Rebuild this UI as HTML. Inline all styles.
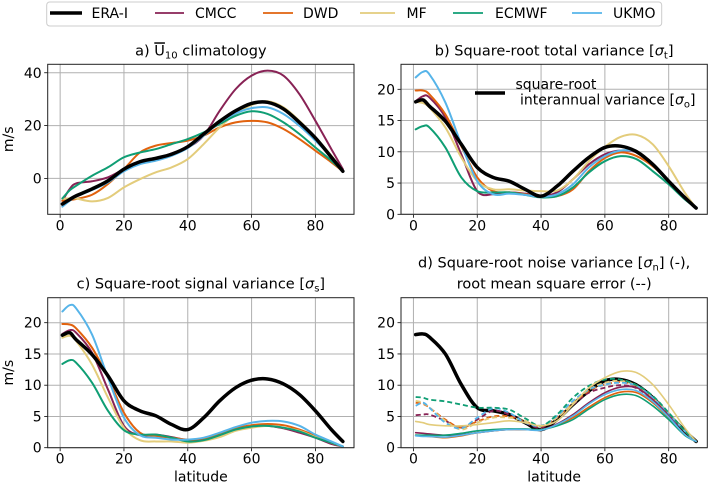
<!DOCTYPE html>
<html><head><meta charset="utf-8"><style>
html,body{margin:0;padding:0;background:#fff;}
svg{display:block;font-family:"DejaVu Sans","Liberation Sans",sans-serif;}
</style></head><body>
<svg id="fig" width="709" height="489" viewBox="0 0 709 489" xmlns="http://www.w3.org/2000/svg">
<g id="legend">
<rect x="46.7" y="2" width="615" height="24" rx="3" fill="#fff" stroke="#cccccc" stroke-width="1"/>
<line x1="50" y1="13" x2="82" y2="13" stroke="#000" stroke-width="3.5"/>
<text x="91.5" y="18" font-size="14">ERA-I</text>
<line x1="155" y1="13" x2="184" y2="13" stroke="#882255" stroke-width="1.8"/>
<text x="195" y="18" font-size="14">CMCC</text>
<line x1="263" y1="13" x2="293" y2="13" stroke="#e1620e" stroke-width="1.8"/>
<text x="303" y="18" font-size="14">DWD</text>
<line x1="360" y1="13" x2="395" y2="13" stroke="#e3cc7b" stroke-width="1.8"/>
<text x="406.5" y="18" font-size="14">MF</text>
<line x1="453" y1="13" x2="483" y2="13" stroke="#0f9e74" stroke-width="1.8"/>
<text x="495" y="18" font-size="14">ECMWF</text>
<line x1="572" y1="13" x2="602" y2="13" stroke="#56b4e9" stroke-width="1.8"/>
<text x="613" y="18" font-size="14">UKMO</text>
</g>
</svg>
<script>
const lat = [0.7,3,5,10,15,20,25,30,35,40,45,50,55,60,65,70,75,80,85,88.6];
const xTicks = [0,20,40,60,80];
const yTicksA = [0,20,40];
const yTicksV = [0,5,10,15,20];
// panel a: climatology
const aERA = [-9.7,-8,-6.6,-4,-0.9,3.5,6.3,7.6,9.2,12,16.8,21.6,25.6,28.4,28.8,26.3,21.2,15.3,8,2.7];
const aCMCC = [-8.5,-4,-1.9,-1.1,0.4,3.5,6.5,7.3,9.5,11.7,16.2,25.6,33.8,38.9,40.8,38.9,31.9,21.8,11.1,3.5];
const aDWD = [-8.5,-8.2,-7.8,-6.2,-2.1,3.5,9.8,12.4,13.4,14.3,16.2,19.3,21.2,21.8,21.2,18.7,14.9,10.5,6.1,2.7];
const aMF = [-7.8,-7.5,-7.6,-8.7,-7.4,-3.4,-0.3,2.3,4.2,7.3,13,19.3,24.4,27.8,29.2,26.9,21.8,15.5,8.6,2.7];
const aECMWF = [-7.6,-4.5,-2.8,1,4.2,8,9.8,11.1,13,14.9,17.4,20.6,23.7,25.4,24.4,21.2,16.8,11.7,6.7,2.7];
const aUKMO = [-10.7,-8.5,-6.9,-4.4,-1.5,2.7,5.4,6.7,8.6,11.5,16.2,21.2,24.6,26.6,26.9,24.4,19.9,14.3,8,2.7];
// panel b: total variance
const bERA = [18,18.3,17.3,14.9,11.2,7.5,5.9,5.3,4,2.9,4.5,6.9,9.1,10.7,10.9,10,8,5.3,2.7,1];
const bCMCC = [18.1,18.9,18.7,15.5,9.6,3.7,3.2,3.5,3.3,2.9,3.5,5.6,8,9.6,10.2,9.9,8,5.3,2.7,1];
const bDWD = [19.8,19.8,19.2,16,10.9,5.9,3.7,3.5,3.2,2.8,2.9,4,6.9,9,9.9,9.3,7.7,5.3,2.7,1];
const bMF = [18,17.8,17.1,13.9,9.1,5.3,4,4,3.8,3.7,3.8,5.6,8.5,10.8,12.4,12.7,11.2,7.7,3.5,1];
const bECMWF = [13.6,14.1,13.9,10.7,5.9,3.7,3.5,3.5,3.1,2.7,2.9,4.3,6.7,8.5,9.3,8.8,6.9,4.8,2.4,1];
const bUKMO = [21.9,22.8,22.4,17.9,11.2,5.3,3.2,3.3,3.1,2.8,3.2,4.8,7.5,9.3,10.2,10,8,5.3,2.7,1];
// panel c: signal variance
const cERA = [18,18.4,17.3,14.9,11.5,7.5,5.9,5.1,3.7,2.9,4.8,7.5,9.6,10.8,11,10.2,8.5,5.9,2.9,1];
const cCMCC = [18.2,18.8,18.4,15.2,9.3,3.5,2,2.1,1.7,1.2,1.3,2,2.8,3.3,3.5,3.1,2.4,1.6,0.6,0.2];
const cDWD = [19.8,19.7,19.1,16,11.2,5.6,2.4,1.9,1.6,1.3,1.5,2.2,3.1,3.6,3.8,3.6,2.9,1.9,0.8,0.2];
const cMF = [17.6,17.9,17.1,13.3,8,3.2,1.2,1,1,0.8,1.1,1.7,2.7,3.2,3.5,3.2,2.7,1.7,0.8,0.2];
const cECMWF = [13.4,14,13.6,10.4,5.9,2.8,2.1,2.1,1.6,1,1.2,2,2.9,3.4,3.5,3.2,2.6,1.6,0.8,0.2];
const cUKMO = [21.8,22.8,22.3,18.1,11.2,4.8,2,1.6,1.3,1.3,1.6,2.4,3.3,4,4.3,4.2,3.5,2.1,1,0.2];
// panel d: noise variance (solid) and rmse (dashed)
const dERA = [18.1,18.2,17.7,15,10.1,6.4,5.9,5.3,4,2.9,4.5,6.9,9.1,10.7,10.9,10,8,5.3,2.7,1];
const dCMCC = [2.4,2.3,2.2,2,2.1,2.4,2.7,2.9,2.9,2.9,3.8,5.3,7.2,8.8,9.7,9.6,7.7,5.1,2.1,1];
const dDWD = [2,1.9,1.8,1.6,1.9,2.4,2.7,2.9,2.9,2.9,3.6,4.8,6.5,8,8.9,8.8,7.2,4.8,2.1,1];
const dMF = [4.2,4,3.7,3.5,3.5,3.7,4,4.3,4,3.5,4.3,6.9,9.6,11.2,12.2,12,10.1,6.9,3.2,1];
const dECMWF = [2,2,2,2,2.3,2.7,2.9,3,3,2.9,3.5,4.5,6.2,7.7,8.5,8.3,6.7,4.5,2,1];
const dUKMO = [1.9,1.8,1.8,1.7,2,2.4,2.7,2.9,2.9,2.8,3.7,5.1,7,8.5,9.3,9.1,7.4,4.9,2.1,1];
const eCMCC = [5.2,5.3,5.3,4.3,3.2,4.5,5.9,5.3,4,3.2,4.8,6.9,8.8,9.6,10,9.5,7.7,5.3,2.7,1];
const eDWD = [7.2,7,6.4,4.5,3.2,4.2,5,5,4.2,3.4,4.9,7.1,9.1,10.1,10.5,9.8,8,5.5,2.7,1];
const eMF = [7.5,7.2,6.4,4.3,2.9,4,4.8,4.8,4.3,3.5,4.8,7.2,9.3,10.4,10.7,9.9,8,5.6,2.7,1];
const eECMWF = [8.1,8,7.7,7.4,6.9,6.4,6.4,6.1,4.7,3.5,5.3,8,9.9,10.9,10.9,10,8.3,5.6,2.7,1];
const eUKMO = [6.7,7.2,6.4,4,3.1,4.8,6.3,5.6,4,3.5,5.1,7.5,9.3,10.1,10.4,9.9,8,5.4,2.7,1];

const C = {era:'#000000',cmcc:'#882255',dwd:'#e1620e',mf:'#e3cc7b',ecmwf:'#0f9e74',ukmo:'#56b4e9'};
const NS='http://www.w3.org/2000/svg';
const svg=document.getElementById('fig');
const W=306.3, H=150, XMIN=-3.9, XMAX=92.1;
const TF=14, TT=14.5;
function mk(tag,attrs,parent){const e=document.createElementNS(NS,tag);for(const k in attrs)e.setAttribute(k,attrs[k]);(parent||svg).appendChild(e);return e;}

function panel(id,left,top,ymin,ymax,yticks,title,ylab,xlab){
  const g=mk('g',{});
  
  
  const sx=v=>left+(v-XMIN)/(XMAX-XMIN)*W;
  const sy=v=>top+H-(v-ymin)/(ymax-ymin)*H;
  const cp=mk('clipPath',{id:'clip-'+id},g);
  mk('rect',{x:left,y:top,width:W,height:H},cp);
  xTicks.forEach(t=>{
    const l=mk('line',{x1:sx(t),x2:sx(t),y1:top,y2:top+H,stroke:'#b0b0b0','stroke-width':1},g);
    
    
    mk('line',{x1:sx(t),x2:sx(t),y1:top+H,y2:top+H+3.5,stroke:'#000','stroke-width':0.8},g);
    const tx=mk('text',{x:sx(t),y:top+H+16,'font-size':TF,'text-anchor':'middle'},g);
    tx.textContent=t;
    
    
  });
  yticks.forEach(t=>{
    const l=mk('line',{x1:left,x2:left+W,y1:sy(t),y2:sy(t),stroke:'#b0b0b0','stroke-width':1},g);
    
    
    mk('line',{x1:left-3.5,x2:left,y1:sy(t),y2:sy(t),stroke:'#000','stroke-width':0.8},g);
    const tx=mk('text',{x:left-6,y:sy(t)+5,'font-size':TF,'text-anchor':'end'},g);
    tx.textContent=t;
    
    
  });
  const tt=mk('text',{x:left+W/2,y:top-9,'font-size':TT,'text-anchor':'middle'},g);
  tt.innerHTML=title;
  
  
  if(ylab){
    const yl=mk('text',{x:0,y:0,'font-size':TF,'text-anchor':'middle',transform:`translate(13,${top+H/2}) rotate(-90)`},g);
    yl.textContent='m/s';
    
    
  }
  if(xlab){
    const xl=mk('text',{x:left+W/2,y:top+H+34,'font-size':TF,'text-anchor':'middle'},g);
    xl.textContent='latitude';
    
    
  }
  const plot=mk('g',{'clip-path':`url(#clip-${id})`},g);
  const api={sx,sy,g,plot,left,top};
  api.line=(name,vals,color,w,dash)=>{
    const p=lat.map((x,i)=>[sx(x),sy(vals[i])]);
    let d=`M${p[0][0]},${p[0][1]}`;
    for(let i=0;i<p.length-1;i++){
      const p0=p[Math.max(i-1,0)],p1=p[i],p2=p[i+1],p3=p[Math.min(i+2,p.length-1)];
      const c1=[p1[0]+(p2[0]-p0[0])/6,p1[1]+(p2[1]-p0[1])/6];
      const c2=[p2[0]-(p3[0]-p1[0])/6,p2[1]-(p3[1]-p1[1])/6];
      d+=` C${c1[0]},${c1[1]} ${c2[0]},${c2[1]} ${p2[0]},${p2[1]}`;
    }
    const a={d,fill:'none',stroke:color,'stroke-width':w,'stroke-linejoin':'round','stroke-linecap':'round'};
    if(dash){a['stroke-dasharray']='5,3';a['stroke-linecap']='butt';}
    const el=mk('path',a,plot);
    
    
  };
  api.frame=()=>{
    const f=mk('rect',{x:left,y:top,width:W,height:H,fill:'none',stroke:'#222','stroke-width':1},g);
    
    
  };
  return api;
}

const sub=s=>`<tspan font-size="10" dy="3">${s}</tspan>`;
// Panel a
const A=panel('panel-a-climatology',47.7,64.3,-13.6,43.2,yTicksA,
 `a) <tspan text-decoration="overline">U</tspan>${sub('10')}<tspan dy="-3"> climatology</tspan>`,true,false);
A.line('line-a-cmcc',aCMCC,C.cmcc,2);
A.line('line-a-dwd',aDWD,C.dwd,2);
A.line('line-a-mf',aMF,C.mf,2);
A.line('line-a-ecmwf',aECMWF,C.ecmwf,2);
A.line('line-a-ukmo',aUKMO,C.ukmo,2);
A.line('line-a-era-i',aERA,C.era,3.5);
A.frame();
// Panel b
const B=panel('panel-b-total-variance',401,64.3,0,24,yTicksV,
 `b) Square-root total variance [<tspan font-style="italic">σ</tspan>${sub('t')}<tspan dy="-3">]</tspan>`,false,false);
B.line('line-b-cmcc',bCMCC,C.cmcc,2);
B.line('line-b-dwd',bDWD,C.dwd,2);
B.line('line-b-mf',bMF,C.mf,2);
B.line('line-b-ecmwf',bECMWF,C.ecmwf,2);
B.line('line-b-ukmo',bUKMO,C.ukmo,2);
B.line('line-b-era-i',bERA,C.era,3.5);
B.frame();
{
  const l=mk('line',{x1:475,x2:505,y1:93,y2:93,stroke:'#000','stroke-width':3.5},B.g);
  
  
  const t1=mk('text',{x:515.5,y:89,'font-size':14},B.g);
  t1.textContent='square-root';
  
  
  const t2=mk('text',{x:520,y:104.5,'font-size':14},B.g);
  t2.innerHTML='interannual variance [<tspan font-style="italic">σ</tspan><tspan font-size="10" dy="3">o</tspan><tspan dy="-3">]</tspan>';
  
  
}
// Panel c
const Cp=panel('panel-c-signal-variance',47.7,297.7,0,24,yTicksV,
 `c) Square-root signal variance [<tspan font-style="italic">σ</tspan>${sub('s')}<tspan dy="-3">]</tspan>`,true,true);
Cp.line('line-c-cmcc',cCMCC,C.cmcc,2);
Cp.line('line-c-dwd',cDWD,C.dwd,2);
Cp.line('line-c-mf',cMF,C.mf,2);
Cp.line('line-c-ecmwf',cECMWF,C.ecmwf,2);
Cp.line('line-c-ukmo',cUKMO,C.ukmo,2);
Cp.line('line-c-era-i',cERA,C.era,3.5);
Cp.frame();
// Panel d
const D=panel('panel-d-noise-variance',401,297.7,0,24,yTicksV,
 `root mean square error (--)`,false,true);
{
  const t=mk('text',{x:401+W/2,y:297.7-30,'font-size':TT,'text-anchor':'middle'},D.g);
  t.innerHTML=`d) Square-root noise variance [<tspan font-style="italic">σ</tspan>${sub('n')}<tspan dy="-3">] (-),</tspan>`;
  
  
}
D.line('line-d-era-i',dERA,C.era,3.5);
D.line('line-d-rmse-cmcc',eCMCC,C.cmcc,1.8,true);
D.line('line-d-rmse-dwd',eDWD,C.dwd,1.8,true);
D.line('line-d-rmse-mf',eMF,C.mf,1.8,true);
D.line('line-d-rmse-ukmo',eUKMO,C.ukmo,1.8,true);
D.line('line-d-rmse-ecmwf',eECMWF,C.ecmwf,1.8,true);
D.line('line-d-noise-cmcc',dCMCC,C.cmcc,1.6);
D.line('line-d-noise-dwd',dDWD,C.dwd,1.6);
D.line('line-d-noise-mf',dMF,C.mf,1.6);
D.line('line-d-noise-ecmwf',dECMWF,C.ecmwf,1.6);
D.line('line-d-noise-ukmo',dUKMO,C.ukmo,1.6);
D.frame();
</script>
</body></html>
